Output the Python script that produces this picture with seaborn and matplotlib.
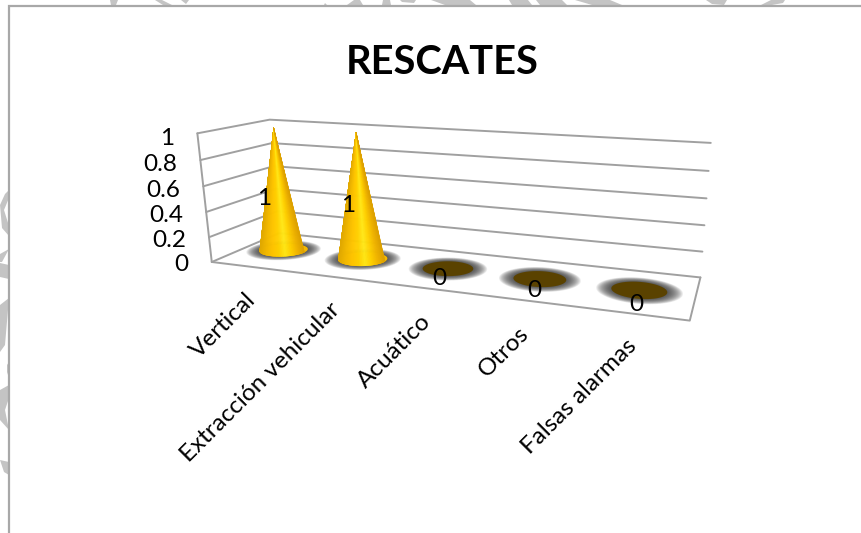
import numpy as np
import pandas as pd
import matplotlib
matplotlib.use("Agg")
import matplotlib.pyplot as plt
from matplotlib.collections import PolyCollection
from matplotlib.colors import LinearSegmentedColormap
from matplotlib.patches import Polygon
import seaborn as sns

# ---- chart data ----
categories = ["Vertical", "Extracción vehicular", "Acuático", "Otros", "Falsas alarmas"]
values = [1, 1, 0, 0, 0]
data_labels = ["1", "1", "0", "0", "0"]
axis_ticks = [0, 0.2, 0.4, 0.6, 0.8, 1]
axis_tick_labels = ["0", "0.2", "0.4", "0.6", "0.8", "1"]
title = "RESCATES"

# ---- style ----
sns.set_theme(style="white")
plt.rcParams["font.family"] = ["Lato", "DejaVu Sans"]
GRID = "#A0A0A0"
TEXT = "#000000"
W, H = 862, 533

fig = plt.figure(figsize=(W / 100, H / 100), dpi=100, facecolor="white")
ax = fig.add_axes([0, 0, 1, 1])
ax.set_xlim(0, W)
ax.set_ylim(H, 0)
ax.axis("off")

# ---- camera: (category position, depth, value) -> picture position ----
n = len(categories)
world = np.array([
    [0, 0, 0], [0, 1, 0], [n, 1, 0], [n, 0, 0],
    [0, 0, 1], [0, 1, 1], [n, 1, 1],
], float)
picture = np.array([
    [210, 261], [281, 234], [700, 277], [690, 321],
    [199, 134], [268, 119], [711, 143],
], float)
rows = []
for (X, Y, Z), (u, v) in zip(world, picture):
    rows.append([X, Y, Z, 1, 0, 0, 0, 0, -u * X, -u * Y, -u * Z, -u])
    rows.append([0, 0, 0, 0, X, Y, Z, 1, -v * X, -v * Y, -v * Z, -v])
camera = np.linalg.svd(np.array(rows))[2][-1].reshape(3, 4)


def project(x, depth, value):
    x, depth, value = np.broadcast_arrays(x, depth, value)
    p = camera @ np.vstack([x.ravel(), depth.ravel(), value.ravel(), np.ones(x.size)])
    return np.column_stack([p[0] / p[2], p[1] / p[2]])


# ---- background fragments and chart frame ----
WM = "#C4C4C4"
for frag in [
    [(110, 0), (118, 0), (116, 5), (111, 5)], [(155, 0), (162, 0), (172, 5), (163, 5)],
    [(181, 0), (189, 0), (186, 4)], [(325, 3), (327, 5), (324, 5)],
    [(347, 5), (354, 0), (360, 0), (363, 5)], [(383, 0), (390, 0), (391, 5), (382, 5)],
    [(400, 0), (416, 0), (414, 3), (402, 2)], [(431, 0), (470, 0), (476, 5), (445, 5)],
    [(509, 0), (528, 0), (532, 5), (512, 5)], [(536, 0), (562, 0), (567, 5), (540, 5)],
    [(575, 0), (610, 0), (622, 5), (592, 5)], [(706, 0), (727, 0), (724, 5), (712, 4)],
    [(761, 5), (771, 0), (785, 0), (783, 3), (772, 5)],
    [(0, 205), (5, 194), (9, 190), (9, 198), (4, 210), (9, 226), (9, 236), (2, 228)],
    [(0, 254), (9, 249), (2, 262), (0, 262)], [(0, 263), (9, 265), (9, 279), (0, 277)],
    [(0, 305), (9, 298), (5, 345), (0, 352)], [(7, 365), (9, 362), (9, 378), (7, 372)],
    [(0, 390), (9, 385), (9, 398), (5, 410), (9, 430), (0, 420)],
    [(0, 460), (9, 462), (9, 475), (4, 472)],
]:
    ax.add_patch(Polygon(frag, closed=True, fc=WM, ec="none", zorder=0))
ax.plot([9, 9, W], [H, 5.5, 5.5], color="#A8A8A8", lw=1.6, zorder=1, solid_joinstyle="miter")

# ---- walls and floor ----
grid_rows = []
for tick in axis_ticks:
    pts = project([0, 0, n], [0, 1, 1], [tick, tick, tick])
    for px, py in pts:
        grid_rows.append({"px": px, "py": py, "line": f"g{tick}"})
for name, xs, ds, vs in [
    ("left", [0, 0], [0, 0], [0, 1]),
    ("floor", [0, n, n], [0, 0, 1], [0, 0, 0]),
]:
    for px, py in project(xs, ds, vs):
        grid_rows.append({"px": px, "py": py, "line": name})
grid_df = pd.DataFrame(grid_rows)
sns.lineplot(data=grid_df, x="px", y="py", units="line", estimator=None, sort=False,
             color=GRID, lw=1.4, legend=False, ax=ax, zorder=2)
ax.set_xlim(0, W)
ax.set_ylim(H, 0)
ax.axis("off")

# ---- cones ----
cone_cmap = LinearSegmentedColormap.from_list(
    "cone", ["#E0A800", "#F2B800", "#FFC400", "#FFD000", "#FFE818", "#FFD000", "#F0B400", "#DCA000"])
RX, RD = 0.268, 0.2
MID_D = 0.52
CENTER = 0.465


def circle(cx, scale=1.0, num=90):
    t = np.linspace(0, 2 * np.pi, num)
    return project(cx + RX * scale * np.cos(t), MID_D + RD * scale * np.sin(t), 0 * t)


for i, val in enumerate(values):
    cx = i + CENTER
    # soft shadow
    for s in np.linspace(1.55, 1.0, 18):
        ax.add_patch(Polygon(circle(cx, s), closed=True, fc="#383838", ec="none",
                             alpha=0.085, zorder=3))
    if val == 0:
        ax.add_patch(Polygon(circle(cx), closed=True, fc="#5A4200", ec="none", zorder=4))
    else:
        ax.add_patch(Polygon(circle(cx), closed=True, fc="#F5B800", ec="none", zorder=4))
        tip = project(cx, MID_D, val)[0]
        angles = np.linspace(np.pi, 2 * np.pi, 121)
        rim = project(cx + RX * np.cos(angles), MID_D + RD * np.sin(angles), 0 * angles)
        polys = [[tip, rim[j], rim[j + 1]] for j in range(len(rim) - 1)]
        u = (rim[:-1, 0] - rim[:, 0].min()) / np.ptp(rim[:, 0])
        cols = cone_cmap(u)
        ax.add_collection(PolyCollection(polys, facecolors=cols, edgecolors=cols,
                                         linewidths=0.3, zorder=5))

# ---- data labels ----
for i, lab in enumerate(data_labels):
    bx, by = project(i + CENTER, MID_D, values[i] * 0.44)[0]
    shift = -15 + 3.1 * i
    if values[i]:
        ax.text(bx + shift, by + 1, lab, ha="center", va="center", fontsize=17.5, color=TEXT, zorder=7)
    else:
        ax.text(bx + shift, by + 10 + 2 * (i - 2), lab, ha="center", va="center", fontsize=17.5,
                color=TEXT, zorder=7)

# ---- value axis labels ----
for tick, lab in zip(axis_ticks, axis_tick_labels):
    px, py = project(0, 0, tick)[0]
    ax.text(px - 23, py + 3 + 2 * tick, lab, ha="right", va="center", fontsize=17.5, color=TEXT, zorder=7)

# ---- category labels ----
for i, lab in enumerate(categories):
    px, py = project(i + 0.5, 0, 0)[0]
    ax.text(px + 1, py + 29.5, lab, rotation=45, rotation_mode="anchor", ha="right",
            va="center", fontsize=17.5, color=TEXT, zorder=7)

ax.text(442, 62.5, title, ha="center", va="center", fontsize=28.6, fontweight="bold", color=TEXT)

fig.savefig("out.png", dpi=100, facecolor="white")
